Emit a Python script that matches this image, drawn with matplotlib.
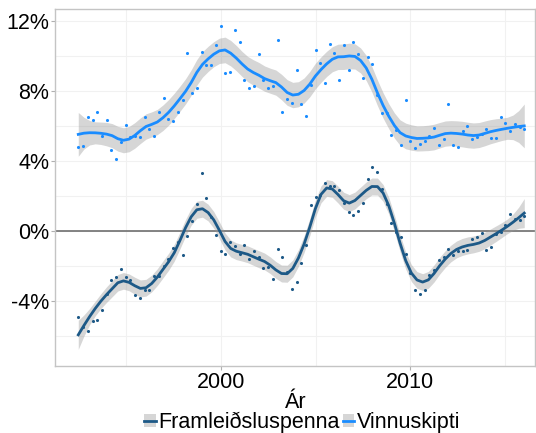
import numpy as np
import matplotlib.pyplot as plt
from matplotlib.patches import Patch
from matplotlib.lines import Line2D

plt.rcParams['font.family'] = ['Liberation Sans', 'DejaVu Sans']

# --- Data (quarterly, % ) ---
quarters = np.arange(1992.5, 2016.01, 0.25)

vinnuskipti = [
    4.80, 4.86, 6.48, 6.31, 6.80, 5.39, 6.31, 4.63, 4.11, 5.05, 6.06, 5.37, 5.40, 5.37, 6.48, 5.81,
    5.39, 6.80, 7.56, 6.38, 6.25, 6.80, 7.45, 10.17, 7.89, 8.15, 10.20, 9.45, 9.45, 10.63, 11.71, 9.00,
    9.07, 11.49, 10.80, 8.59, 8.17, 8.27, 10.11, 8.63, 8.15, 8.25, 10.88, 6.78, 7.54, 7.31, 9.17, 7.22,
    6.54, 8.34, 10.33, 9.56, 8.42, 10.65, 10.13, 8.63, 10.61, 9.17, 10.76, 10.08, 8.73, 9.93, 9.54, 7.75,
    6.74, 6.71, 5.47, 5.75, 4.90, 7.47, 5.14, 4.71, 4.94, 5.13, 5.43, 5.85, 4.90, 5.24, 7.24, 4.90,
    4.76, 5.71, 5.98, 5.26, 5.34, 5.50, 5.81, 5.28, 5.28, 6.50, 6.17, 5.70, 6.11, 5.90, 5.81,
]

framleidsluspenna = [
    -4.93, -5.50, -5.75, -5.16, -5.10, -4.53, -3.60, -2.84, -2.67, -2.21, -2.67, -2.80, -3.66, -3.87, -3.39, -3.37,
    -2.59, -2.59, -2.04, -1.62, -0.97, -0.65, -1.39, -0.30, 0.57, 1.54, 3.28, 1.89, 0.80, -0.22, -1.16, -1.30,
    -0.62, -0.86, -1.30, -0.83, -1.59, -1.16, -1.52, -2.10, -2.08, -2.75, -1.05, -1.52, -2.35, -3.34, -2.90, -1.84,
    -0.80, 1.48, 1.90, 2.02, 2.73, 2.55, 2.55, 2.33, 1.60, 1.05, 0.90, 1.14, 1.60, 2.94, 3.62, 3.34,
    2.38, 1.50, 0.46, -0.10, -0.35, -1.30, -2.40, -3.37, -3.62, -3.37, -2.53, -2.25, -1.66, -1.52, -1.05, -1.39,
    -1.14, -1.18, -1.10, -0.47, -0.38, -0.11, -1.12, -0.95, -0.20, -0.06, 0.30, 0.95, 0.67, 0.61, 0.84,
]

series_names = ['Framleiðsluspenna', 'Vinnuskipti']
series_colors = ['#1d5987', '#1a8cff']
span = 0.2


def loess_matrix(x, xs, span):
    # local quadratic fit with tricube weights; returns smoother rows
    n = len(x)
    q = int(np.floor(n * span))
    rows = []
    for x0 in xs:
        d = np.abs(x - x0)
        h = np.sort(d)[q - 1]
        w = np.clip(1 - (d / h) ** 3, 0, None) ** 3
        X = np.column_stack([np.ones(n), x - x0, (x - x0) ** 2])
        XtW = X.T * w
        rows.append(np.linalg.solve(XtW @ X, XtW)[0])
    return np.array(rows)


def smooth(x, y, span):
    y = np.asarray(y)
    L = loess_matrix(x, x, span)
    res = y - L @ y
    M = np.eye(len(x)) - L
    sigma = np.sqrt(res @ res / np.trace(M.T @ M))
    xs = np.linspace(x.min(), x.max(), 80)
    Ls = loess_matrix(x, xs, span)
    fit = Ls @ y
    se = sigma * np.sqrt((Ls ** 2).sum(axis=1))
    return xs, fit, 1.99 * se


fig = plt.figure(figsize=(5.36, 4.33), dpi=100)
ax = fig.add_axes([0.1032, 0.1554, 0.8958, 0.8231])

ax.axhline(0, color='#6f6f6f', lw=1.2, zorder=1)

handles = []
for name, vals, col in zip(series_names, [framleidsluspenna, vinnuskipti], series_colors):
    xs, fit, band = smooth(quarters, vals, span)
    ax.fill_between(xs, fit - band, fit + band, color='#999999', alpha=0.4, lw=0, zorder=2)
    ax.scatter(quarters, vals, s=5, color=col, lw=0, zorder=3)
    ax.plot(xs, fit, color=col, lw=2, zorder=4)
    handles.append((Patch(facecolor='#d6d6d6', edgecolor='none'), Line2D([], [], color=col, lw=2)))

ax.set_xlim(1991.29, 2016.59)
ax.set_ylim(-7.71, 12.65)
ax.set_yticks([-4, 0, 4, 8, 12])
ax.set_yticklabels(['-4%', '0%', '4%', '8%', '12%'])
ax.set_yticks([-6, -2, 2, 6, 10], minor=True)
ax.set_xticks([2000, 2010])
ax.set_xticks([1995, 2005, 2015], minor=True)
ax.grid(True, which='both', color='#f1f1f1', lw=0.8, zorder=0)
ax.set_axisbelow(True)
ax.tick_params(which='major', labelsize=15.5, length=3, color='#b0b0b0', pad=1.5)
ax.tick_params(which='minor', length=0)
for s in ax.spines.values():
    s.set_color('#c4c4c4')
    s.set_linewidth(1)

ax.set_xlabel('Ár', fontsize=15.5, labelpad=-1)

fig.legend(handles, series_names, loc='center', bbox_to_anchor=(302 / 536, 1 - 422 / 433),
           ncol=2, frameon=False, fontsize=15.5, handlelength=0.55, handleheight=0.55,
           handletextpad=0.1, columnspacing=0.15, borderpad=0)

fig.savefig('out.png', dpi=100)
